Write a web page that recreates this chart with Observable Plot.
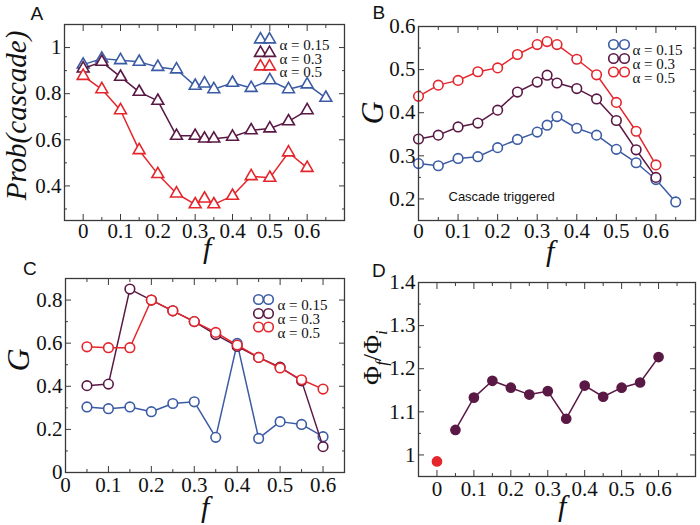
<!DOCTYPE html>
<html>
<head>
<meta charset="utf-8">
<script src="https://cdn.jsdelivr.net/npm/d3@7"></script>
<script src="https://cdn.jsdelivr.net/npm/@observablehq/plot@0.6"></script>
<style>
  html, body { margin: 0; padding: 0; background: #fff; }
  #root { position: relative; width: 700px; height: 525px; overflow: hidden; background: #fff; }
  .panel { position: absolute; }
  .lbl { position: absolute; white-space: nowrap; transform-origin: center center; line-height: 1; color: #111; }
  .letter { font-family: "Liberation Sans", Arial, sans-serif; font-size: 19px; }
  .math { font-family: "Liberation Serif", "Times New Roman", serif; font-style: italic; }
  .up { font-style: normal; }
</style>
</head>
<body>
<div id="root"></div>
<script>
// ---------------- data ----------------
const seriesNames = ["α = 0.15", "α = 0.3", "α = 0.5"];
const seriesColors = ["#3b5ba5", "#5a1844", "#e4262c"];

// Panel A: Prob(cascade) vs f
const fA = [0, 0.05, 0.1, 0.15, 0.2, 0.25, 0.3, 0.325, 0.35, 0.4, 0.45, 0.5, 0.55, 0.6, 0.65];
const probA015 = [0.926, 0.952, 0.945, 0.938, 0.916, 0.905, 0.834, 0.844, 0.819, 0.847, 0.825, 0.858, 0.819, 0.840, 0.782];
const probA03  = [0.909, 0.938, 0.873, 0.808, 0.769, 0.617, 0.617, 0.605, 0.605, 0.613, 0.641, 0.649, 0.680, 0.728];
const probA05  = [0.877, 0.819, 0.728, 0.555, 0.451, 0.367, 0.320, 0.345, 0.320, 0.357, 0.442, 0.435, 0.545, 0.478];

// Panel B: G vs f (cascade triggered)
const fB = [0, 0.05, 0.1, 0.15, 0.2, 0.25, 0.3, 0.325, 0.35, 0.4, 0.45, 0.5, 0.55, 0.6, 0.65];
const gB015 = [0.282, 0.277, 0.294, 0.298, 0.319, 0.338, 0.355, 0.371, 0.391, 0.364, 0.348, 0.315, 0.284, 0.245, 0.193];
const gB03  = [0.339, 0.348, 0.367, 0.376, 0.406, 0.448, 0.471, 0.487, 0.469, 0.456, 0.432, 0.382, 0.314, 0.250];
const gB05  = [0.438, 0.464, 0.475, 0.495, 0.504, 0.535, 0.558, 0.565, 0.558, 0.524, 0.488, 0.424, 0.357, 0.279];

// Panel C: G vs f
const fC = [0.05, 0.1, 0.15, 0.2, 0.25, 0.3, 0.35, 0.4, 0.45, 0.5, 0.55, 0.6];
const gC015 = [0.304, 0.296, 0.304, 0.282, 0.320, 0.328, 0.163, 0.599, 0.158, 0.236, 0.223, 0.166];
const gC03  = [0.403, 0.410, 0.851, 0.800, 0.750, 0.700, 0.640, 0.585, 0.534, 0.489, 0.425, 0.120];
const gC05  = [0.583, 0.579, 0.579, 0.800, 0.750, 0.700, 0.650, 0.591, 0.534, 0.485, 0.430, 0.387];

// Panel D: Phi_f / Phi_i vs f
const fD = [0.05, 0.1, 0.15, 0.2, 0.25, 0.3, 0.35, 0.4, 0.45, 0.5, 0.55, 0.6];
const phiD = [1.058, 1.133, 1.172, 1.156, 1.140, 1.148, 1.084, 1.161, 1.135, 1.156, 1.168, 1.227];
const fD0 = [0];
const phiD0 = [0.985];

// tick values
const xTicks = [0, 0.1, 0.2, 0.3, 0.4, 0.5, 0.6];
const xMinor = [0.05, 0.15, 0.25, 0.35, 0.45, 0.55, 0.65];
const yTicksA = [0.4, 0.6, 0.8, 1];
const yMinorA = [0.3, 0.5, 0.7, 0.9];
const yTicksB = [0.2, 0.3, 0.4, 0.5, 0.6];
const yMinorB = [0.25, 0.35, 0.45, 0.55];
const yTicksC = [0, 0.2, 0.4, 0.6, 0.8];
const yMinorC = [0.1, 0.3, 0.5, 0.7];
const yTicksD = [1, 1.1, 1.2, 1.3, 1.4];
const yMinorD = [1.05, 1.15, 1.25, 1.35];

// ---------------- helpers ----------------
const rows = (fs, vs) => vs.map((v, i) => ({f: fs[i], v}));
const fmt = d => d3.format("~g")(+(+d).toFixed(3));
const AX = "#3a3a3a";
const SERIF = "Liberation Serif";

function axes(t) {
  const S = 6, s = 3;
  const m = [];
  for (const anchor of ["bottom", "top"]) {
    const sg = anchor === "bottom" ? -1 : 1;
    m.push(Plot.axisX(t.xMajor, {anchor, tickSize: S, dy: sg * S, fill: "none", stroke: AX, label: null}));
    m.push(Plot.axisX(t.xMinor, {anchor, tickSize: s, dy: sg * s, fill: "none", stroke: AX, label: null}));
  }
  for (const anchor of ["left", "right"]) {
    const sg = anchor === "left" ? 1 : -1;
    m.push(Plot.axisY(t.yMajor, {anchor, tickSize: S, dx: sg * S, fill: "none", stroke: AX, label: null}));
    m.push(Plot.axisY(t.yMinor, {anchor, tickSize: s, dx: sg * s, fill: "none", stroke: AX, label: null}));
  }
  m.push(Plot.axisX(t.xMajor, {anchor: "bottom", tickSize: 0, tickPadding: t.xPad, tickFormat: fmt, fontSize: 21, fontFamily: SERIF, fill: "#111", label: null}));
  m.push(Plot.axisY(t.yMajor, {anchor: "left", tickSize: 0, tickPadding: 3, tickFormat: fmt, fontSize: 21, fontFamily: SERIF, fill: "#111", label: null}));
  return m;
}

function seriesMarks(list, symbol, r, filled) {
  const m = [];
  for (const s of list) {
    m.push(Plot.line(s.data, {x: "f", y: "v", stroke: s.color, strokeWidth: 1.5}));
    m.push(Plot.dot(s.data, {x: "f", y: "v", symbol, r, stroke: s.color, strokeWidth: 1.6, fill: filled ? s.color : "white"}));
  }
  return m;
}

function legendMarks(symbol, r, symDx, textDx, rowDy) {
  const m = [];
  seriesNames.forEach((name, i) => {
    for (const dx of symDx) {
      m.push(Plot.dot([name], {frameAnchor: "top-right", dx, dy: rowDy[i], symbol, r, stroke: seriesColors[i], strokeWidth: 1.6, fill: "white"}));
    }
    m.push(Plot.text([name], {frameAnchor: "top-right", dx: textDx, dy: rowDy[i], textAnchor: "start", fontSize: 15, fontFamily: SERIF, fill: "#111"}));
  });
  return m;
}

function panel(cfg) {
  const chart = Plot.plot({
    width: cfg.w, height: cfg.h,
    marginLeft: cfg.m[0], marginRight: cfg.m[1], marginTop: cfg.m[2], marginBottom: cfg.m[3],
    x: {domain: cfg.xDomain, label: null},
    y: {domain: cfg.yDomain, label: null},
    style: "font-family: 'Liberation Serif', serif; font-size: 21px; background: transparent; color: #111; overflow: visible;",
    marks: [
      ...cfg.marks,
      Plot.frame({stroke: AX, strokeWidth: 1.3}),
      ...axes(cfg.ticks)
    ]
  });
  const wrap = document.createElement("div");
  wrap.className = "panel";
  wrap.style.left = cfg.left + "px";
  wrap.style.top = cfg.top + "px";
  wrap.appendChild(chart);
  document.getElementById("root").appendChild(wrap);
}

function label(html, cx, cy, cls, size, rot) {
  const d = document.createElement("div");
  d.className = "lbl " + cls;
  d.innerHTML = html;
  d.style.fontSize = size + "px";
  document.getElementById("root").appendChild(d);
  const w = d.offsetWidth, h = d.offsetHeight;
  d.style.left = (cx - w / 2) + "px";
  d.style.top = (cy - h / 2) + "px";
  if (rot) d.style.transform = `rotate(${rot}deg)`;
}

// ---------------- panels ----------------
const seriesA = [
  {data: rows(fA, probA015), color: seriesColors[0]},
  {data: rows(fA, probA03), color: seriesColors[1]},
  {data: rows(fA, probA05), color: seriesColors[2]}
];
panel({
  left: 0, top: 0, w: 350, h: 262, m: [64, 6, 24, 42],
  xDomain: [-0.05, 0.7], yDomain: [0.25, 1.1],
  ticks: {xMajor: xTicks, xMinor, yMajor: yTicksA, yMinor: yMinorA, xPad: 3},
  marks: [...seriesMarks(seriesA, "triangle", 4.4, false),
          ...legendMarks("triangle", 4.4, [-84, -75], -65, [15, 28.5, 42])]
});

const seriesB = [
  {data: rows(fB, gB015), color: seriesColors[0]},
  {data: rows(fB, gB03), color: seriesColors[1]},
  {data: rows(fB, gB05), color: seriesColors[2]}
];
panel({
  left: 350, top: 0, w: 350, h: 262, m: [68, 5, 26, 42],
  xDomain: [0, 0.7], yDomain: [0.15, 0.6],
  ticks: {xMajor: xTicks, xMinor, yMajor: yTicksB, yMinor: yMinorB, xPad: 3},
  marks: [...seriesMarks(seriesB, "circle", 4.8, false),
          ...legendMarks("circle", 4.8, [-82, -71], -63, [18, 32, 45.5]),
          Plot.text(["Cascade triggered"], {frameAnchor: "bottom-left", dx: 30, dy: -20, textAnchor: "start", fontFamily: "Liberation Sans", fontSize: 13, fill: "#111"})]
});

const seriesC = [
  {data: rows(fC, gC015), color: seriesColors[0]},
  {data: rows(fC, gC03), color: seriesColors[1]},
  {data: rows(fC, gC05), color: seriesColors[2]}
];
panel({
  left: 0, top: 262, w: 350, h: 263, m: [65, 6, 16, 53],
  xDomain: [0, 0.65], yDomain: [0, 0.9],
  ticks: {xMajor: xTicks, xMinor: xMinor.slice(0, 6), yMajor: yTicksC, yMinor: yMinorC, xPad: 5},
  marks: [...seriesMarks(seriesC, "circle", 4.8, false),
          ...legendMarks("circle", 4.8, [-86, -76], -67, [21, 35, 48.5])]
});

panel({
  left: 350, top: 262, w: 350, h: 263, m: [68, 5, 20, 49],
  xDomain: [-0.05, 0.7], yDomain: [0.95, 1.4],
  ticks: {xMajor: xTicks, xMinor, yMajor: yTicksD, yMinor: yMinorD, xPad: 5},
  marks: [
    Plot.line(rows(fD, phiD), {x: "f", y: "v", stroke: seriesColors[1], strokeWidth: 1.5}),
    Plot.dot(rows(fD, phiD), {x: "f", y: "v", r: 4.6, fill: seriesColors[1], stroke: seriesColors[1]}),
    Plot.dot(rows(fD0, phiD0), {x: "f", y: "v", r: 4.6, fill: seriesColors[2], stroke: seriesColors[2]})
  ]
});

// ---------------- titles / axis labels ----------------
label("A", 37, 13, "letter", 19);
label("B", 379, 12, "letter", 19);
label("C", 30, 268, "letter", 19);
label("D", 379, 270, "letter", 19);

label("Prob(cascade)", 17, 115, "math", 29, -90);
label("f", 207, 248, "math", 30);
label("G", 371, 113, "math", 32, -90);
label("f", 550, 251, "math", 30);
label("G", 17, 360, "math", 32, -90);
label("f", 205, 507, "math", 30);
label("<span class='up'>Φ</span><sub style='font-size:0.65em'>f</sub><span class='up'>/Φ</span><sub style='font-size:0.65em'>i</sub>", 375, 357, "math", 26, -90);
label("f", 562, 506, "math", 30);
</script>
</body>
</html>
